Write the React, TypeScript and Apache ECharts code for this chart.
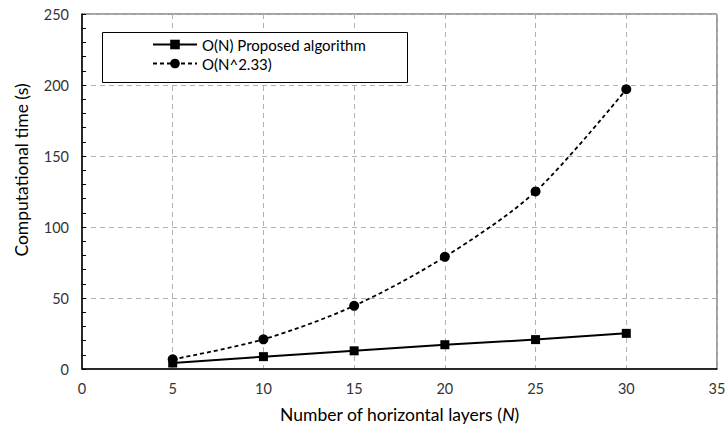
import React, { useEffect, useRef } from "react";
import * as echarts from "echarts";

const layers = [5, 10, 15, 20, 25, 30];
const proposed = [4.2, 8.7, 12.8, 17.1, 20.7, 25.1];
const power233 = [6.8, 20.9, 44.5, 79.0, 125.0, 197.0];
const seriesNames = ["O(N) Proposed algorithm", "O(N^2.33)"];

const FONT = "Lato";

export default function App() {
  const ref = useRef<HTMLDivElement>(null);
  useEffect(() => {
    if (!ref.current) return;
    const chart = echarts.init(ref.current, null, { renderer: "svg" });
    chart.setOption({
      animation: false,
      backgroundColor: "#ffffff",
      textStyle: { fontFamily: FONT },
      grid: {
        left: 82,
        right: 9,
        top: 14,
        bottom: 59,
        show: true,
        borderColor: "#404040",
        borderWidth: 1,
        containLabel: false,
        outerBoundsMode: "none",
      },
      xAxis: {
        type: "value",
        min: 0,
        max: 35,
        interval: 5,
        axisLine: { show: true, onZero: false, lineStyle: { color: "#000", width: 1.5 } },
        axisTick: { show: false },
        axisLabel: { color: "#333", fontSize: 14.5, fontFamily: FONT, margin: 12 },
        splitLine: { show: true, lineStyle: { color: "#b0b0b0", type: [5, 4], width: 1 } },
        name: "Number of horizontal layers ({i|N})",
        nameLocation: "middle",
        nameGap: 36,
        nameTextStyle: {
          fontSize: 17.5,
          color: "#000",
          fontFamily: FONT,
          rich: { i: { fontStyle: "italic", fontSize: 17.5, fontFamily: FONT, color: "#000" } },
        },
      },
      yAxis: {
        type: "value",
        min: 0,
        max: 250,
        interval: 50,
        axisLine: { show: true, lineStyle: { color: "#000", width: 1.5 } },
        axisTick: { show: true, inside: true, length: 4, lineStyle: { color: "#000" } },
        minorTick: { show: true, splitNumber: 5, length: 4, lineStyle: { color: "#000" } },
        axisLabel: { color: "#333", fontSize: 14.5, fontFamily: FONT, margin: 13 },
        splitLine: { show: true, lineStyle: { color: "#b0b0b0", type: [5, 4], width: 1 } },
      },
      legend: {
        orient: "vertical",
        left: 152,
        top: 37,
        itemWidth: 44,
        itemHeight: 12,
        itemGap: 4,
        padding: 0,
        textStyle: { fontSize: 15, color: "#000", fontFamily: FONT },
        data: seriesNames,
      },
      graphic: [
        {
          type: "rect",
          left: 102,
          top: 32,
          z: 3,
          shape: { width: 305, height: 50 },
          style: { fill: "#fff", stroke: "#000", lineWidth: 1 },
        },
        {
          type: "text",
          x: 21,
          y: 170,
          rotation: Math.PI / 2,
          style: {
            text: "Computational time (s)",
            fontSize: 17.5,
            fontFamily: FONT,
            fill: "#000",
            align: "center",
            verticalAlign: "middle",
          },
        },
      ],
      series: [
        {
          name: seriesNames[0],
          type: "line",
          data: layers.map((x, i) => [x, proposed[i]]),
          symbol: "rect",
          symbolSize: 9,
          lineStyle: { color: "#000", width: 2 },
          itemStyle: { color: "#000" },
          z: 5,
        },
        {
          name: seriesNames[1],
          type: "line",
          data: layers.map((x, i) => [x, power233[i]]),
          symbol: "circle",
          symbolSize: 10,
          smooth: 0.3,
          lineStyle: { color: "#000", width: 1.8, type: [4, 3] },
          itemStyle: { color: "#000" },
          z: 4,
        },
      ],
    });
    return () => chart.dispose();
  }, []);
  return (
    <div
      ref={ref}
      style={{ position: "absolute", left: 0, top: 0, width: 726, height: 428 }}
    />
  );
}
